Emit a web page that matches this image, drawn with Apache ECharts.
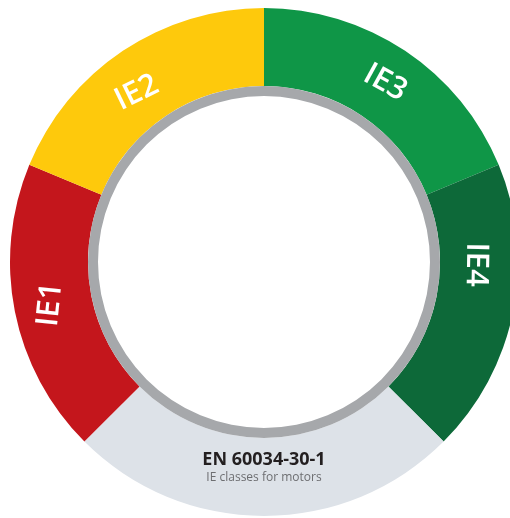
<!DOCTYPE html>
<html>
<head>
<meta charset="utf-8">
<style>
  html, body { margin: 0; padding: 0; background: #fff; }
  #chart { width: 510px; height: 518px; }
</style>
<script src="https://cdn.jsdelivr.net/npm/echarts@6/dist/echarts.min.js"></script>
</head>
<body>
<div id="chart"></div>
<script>
// segments clockwise from 12 o'clock, sizes in degrees
var classes = ['IE3', 'IE4', '', 'IE1', 'IE2']
var sweep = [67.5, 67.5, 90, 67.5, 67.5]
var colors = ['#0f9647', '#0d6939', '#dde2e8', '#c4161c', '#fec90c']
var labelTilt = [-29, -91, 0, 84, 26]
// small screen-space nudges so labels sit like the printed figure
var labelShift = [[0, 2], [-2, -40], [0, 0], [0, 0], [-6, 12]]
var standard = 'EN 60034-30-1'
var subtitle = 'IE classes for motors'

var chart = echarts.init(document.getElementById('chart'))

var option = {
  animation: false,
  graphic: [
    {
      type: 'text',
      z: 100,
      x: 264,
      y: 451,
      style: {
        text: standard,
        fill: '#231f20',
        fontFamily: 'Open Sans',
        fontWeight: 'bold',
        fontSize: 18,
        align: 'center'
      }
    },
    {
      type: 'text',
      z: 100,
      x: 264,
      y: 472,
      style: {
        text: subtitle,
        fill: '#6d6e71',
        fontFamily: 'Open Sans',
        fontSize: 12,
        align: 'center'
      }
    }
  ],
  series: [
    {
      type: 'pie',
      center: [264, 262],
      radius: [176, 254],
      startAngle: 90,
      clockwise: true,
      silent: true,
      label: {
        show: true,
        position: 'inside',
        color: '#fff',
        fontFamily: 'Open Sans',
        fontWeight: 600,
        fontSize: 31
      },
      labelLine: { show: false },
      labelLayout: function (params) {
        // dx/dy act in the label's rotated frame, so turn the screen shift into it
        var s = labelShift[params.dataIndex]
        var t = labelTilt[params.dataIndex] * Math.PI / 180
        return {
          dx: s[0] * Math.cos(t) - s[1] * Math.sin(t),
          dy: s[0] * Math.sin(t) + s[1] * Math.cos(t)
        }
      },
      data: classes.map(function (name, i) {
        return {
          name: name,
          value: sweep[i],
          itemStyle: { color: colors[i] },
          label: { rotate: labelTilt[i], formatter: name }
        }
      })
    },
    {
      // thin grey ring around the hole
      type: 'pie',
      center: [264, 262],
      radius: [166, 176],
      silent: true,
      label: { show: false },
      labelLine: { show: false },
      itemStyle: { color: '#a6a8ab' },
      data: [1]
    }
  ]
}

chart.setOption(option)
</script>
</body>
</html>
